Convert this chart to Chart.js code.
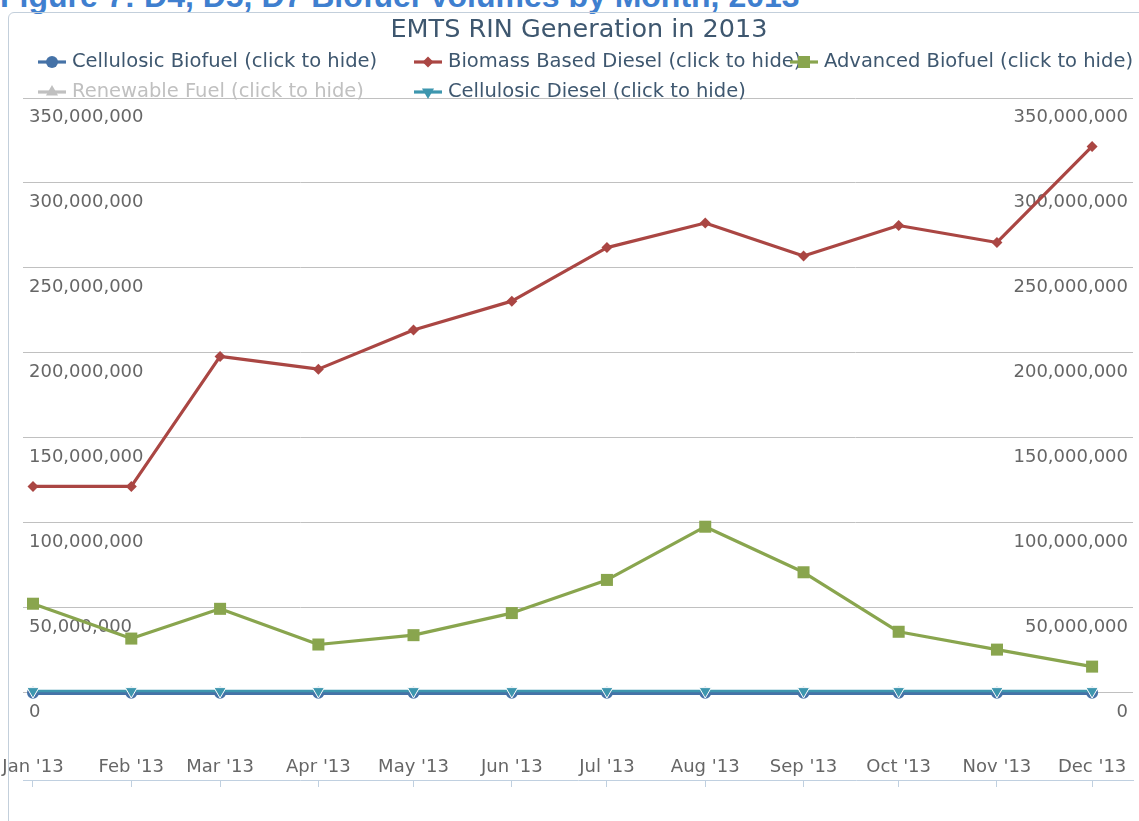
<!DOCTYPE html>
<html>
<head>
<meta charset="utf-8">
<script src="https://cdn.jsdelivr.net/npm/chart.js@4.4.1/dist/chart.umd.min.js"></script>
<style>
  html, body { margin: 0; padding: 0; background: #fff; }
  body { width: 1139px; height: 821px; position: relative; overflow: hidden; }
  #fig { position: absolute; left: 0; top: -20px; font: bold 32px "Liberation Sans", Arial, sans-serif; line-height: 32px; color: #3f7fcf; white-space: nowrap; }
  #frame { position: absolute; left: 8px; top: 12px; width: 1200px; height: 900px; border: 1px solid #c3cfdb; border-radius: 6px; }
  #chart { position: absolute; left: 0; top: 0; }
</style>
</head>
<body>
<div id="fig">Figure 7: D4, D5, D7 Biofuel Volumes by Month, 2013</div>
<div id="frame"></div>
<canvas id="chart" width="1139" height="821"></canvas>
<script>
// month labels and day-of-year of the 1st of each month (datetime axis)
const months = ["Jan '13", "Feb '13", "Mar '13", "Apr '13", "May '13", "Jun '13",
                "Jul '13", "Aug '13", "Sep '13", "Oct '13", "Nov '13", "Dec '13"];
const monthDay = [0, 31, 59, 90, 120, 151, 181, 212, 243, 273, 304, 334];

// RINs generated per month
const cellulosicBiofuel = [0.1e6, 0.1e6, 0.1e6, 0.1e6, 0.1e6, 0.1e6, 0.1e6, 0.1e6, 0.1e6, 0.1e6, 0.1e6, 0.1e6];
const biomassDiesel = [121.5e6, 121.5e6, 198e6, 190.5e6, 213.5e6, 230.5e6, 262e6, 276.5e6, 257e6, 275e6, 265e6, 321.5e6];
const advancedBiofuel = [52.5e6, 32e6, 49.5e6, 28.5e6, 34e6, 47e6, 66.5e6, 97.8e6, 71e6, 36e6, 25.5e6, 15.5e6];
const renewableFuel = []; // hidden in the reference
const cellulosicDiesel = [1.1e6, 1.1e6, 1.1e6, 1.1e6, 1.1e6, 1.1e6, 1.1e6, 1.1e6, 1.1e6, 1.1e6, 1.1e6, 1.1e6];

const yTicks = [0, 50e6, 100e6, 150e6, 200e6, 250e6, 300e6, 350e6];

const FONT = '"DejaVu Sans", Verdana, sans-serif';
const pts = arr => arr.map((v, i) => ({ x: monthDay[i], y: v }));

function series(label, data, color, style, radius, extra) {
    return Object.assign({
        label: label,
        data: pts(data),
        borderColor: color,
        backgroundColor: color,
        borderWidth: 3.2,
        pointStyle: style,
        pointRadius: radius,
        pointHoverRadius: radius,
        pointBackgroundColor: color,
        pointBorderColor: color,
        pointBorderWidth: 0,
        tension: 0,
        borderJoinStyle: 'round',
        clip: false
    }, extra || {});
}

const datasets = [
    series('Cellulosic Biofuel (click to hide)', cellulosicBiofuel, '#4572A7', 'circle', 6, { borderWidth: 4.5, order: 4 }),
    series('Biomass Based Diesel (click to hide)', biomassDiesel, '#AA4643', 'rectRot', 5.5, { order: 3 }),
    series('Advanced Biofuel (click to hide)', advancedBiofuel, '#89A54E', 'rect', 8.5, { order: 2 }),
    series('Renewable Fuel (click to hide)', renewableFuel, '#80699B', 'triangle', 7, { order: 1, hidden: true }),
    series('Cellulosic Diesel (click to hide)', cellulosicDiesel, '#3D96AE', 'triangle', 7,
        { order: 0, borderWidth: 2.5, pointRotation: 180, pointBorderColor: '#ffffff', pointBorderWidth: 1 })
];

// title + highcharts-style legend, drawn on the canvas
const legendPos = [[38, 62], [414, 62], [790, 62], [38, 92], [414, 92]];
const headerPlugin = {
    id: 'header',
    afterDraw(chart) {
        const ctx = chart.ctx;
        ctx.save();
        ctx.fillStyle = '#3E576F';
        ctx.font = '25.5px ' + FONT;
        ctx.textAlign = 'center';
        ctx.textBaseline = 'middle';
        ctx.fillText('EMTS RIN Generation in 2013', 579, 30);

        chart.data.datasets.forEach((ds, i) => {
            const [x, y] = legendPos[i];
            const col = ds.hidden ? '#C0C0C0' : ds.borderColor;
            ctx.strokeStyle = col;
            ctx.fillStyle = col;
            ctx.lineWidth = 3.2;
            ctx.beginPath();
            ctx.moveTo(x, y);
            ctx.lineTo(x + 28, y);
            ctx.stroke();
            Chart.helpers.drawPoint(ctx, {
                pointStyle: ds.pointStyle,
                radius: ds.pointRadius,
                rotation: ds.pointRotation || 0,
                borderWidth: 0
            }, x + 14, y);
            ctx.fillStyle = ds.hidden ? '#C0C0C0' : '#3E576F';
            ctx.font = '19.5px ' + FONT;
            ctx.textAlign = 'left';
            ctx.textBaseline = 'middle';
            ctx.fillText(ds.label, x + 34, y);
        });
        ctx.restore();
    }
};

const yFmt = v => Number(v).toLocaleString('en-US');
const yBase = {
    min: -51.2e6,
    max: 350e6,
    afterBuildTicks: s => { s.ticks = yTicks.map(v => ({ value: v })); },
    border: { display: false },
    ticks: {
        mirror: true,
        labelOffset: 19,
        color: '#666',
        font: { family: FONT, size: 18 },
        autoSkip: false,
        callback: yFmt
    }
};

new Chart(document.getElementById('chart'), {
    type: 'line',
    data: { datasets: datasets },
    plugins: [headerPlugin],
    options: {
        responsive: false,
        animation: false,
        devicePixelRatio: 1,
        layout: { autoPadding: false, padding: { left: 17, right: 1, top: 98, bottom: 31 } },
        plugins: {
            legend: { display: false },
            title: { display: false },
            tooltip: { enabled: false }
        },
        scales: {
            x: {
                type: 'linear',
                min: -3.15,
                max: 346.9,
                afterBuildTicks: s => { s.ticks = monthDay.map(v => ({ value: v })); },
                afterFit: s => { s.height = 10; s.paddingLeft = 0; s.paddingRight = 0; },
                grid: { drawOnChartArea: false, drawTicks: true, tickLength: 7, tickColor: '#C0D0E0' },
                border: { display: true, color: '#C0D0E0', width: 1 },
                ticks: {
                    mirror: true,
                    padding: 2,
                    color: '#666',
                    font: { family: FONT, size: 18 },
                    autoSkip: false,
                    maxRotation: 0,
                    callback: (v, i) => months[i]
                }
            },
            y: Object.assign({}, yBase, {
                position: 'left',
                afterFit: s => { s.width = 6; s.paddingTop = 0; s.paddingBottom = 0; },
                grid: { color: '#C0C0C0', lineWidth: 1, drawTicks: false },
                ticks: Object.assign({}, yBase.ticks, { padding: 6 })
            }),
            y2: Object.assign({}, yBase, {
                position: 'right',
                afterFit: s => { s.width = 5; s.paddingTop = 0; s.paddingBottom = 0; },
                grid: { display: false, drawTicks: false },
                ticks: Object.assign({}, yBase.ticks, { padding: -5 })
            })
        }
    }
});
</script>
</body>
</html>
